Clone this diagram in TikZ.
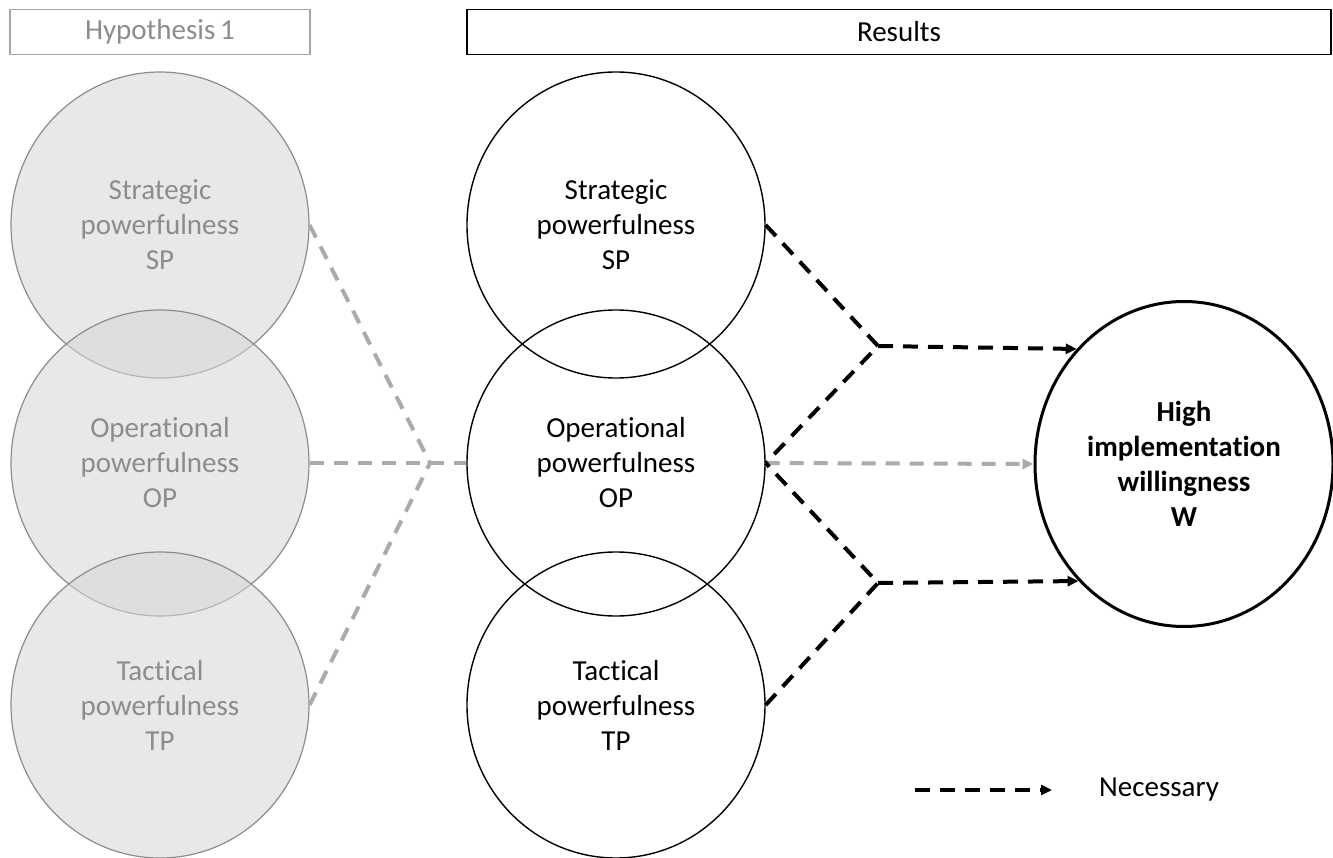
\documentclass[tikz,border=0pt]{standalone}
\usepackage{fontspec}
\setmainfont{Carlito}[RawFeature={-liga;-clig;-calt;-dlig}]
\usetikzlibrary{shapes.geometric,arrows.meta}
\definecolor{lgborder}{HTML}{8C8C8C}
\definecolor{lgtext}{HTML}{8C8C8C}
\definecolor{lgfill}{HTML}{D6D6D6}
\definecolor{hdgray}{HTML}{A6A6A6}
\definecolor{dashgray}{HTML}{ABABAB}
\tikzset{
  txt/.style={font=\fontsize{29}{35}\selectfont, align=center},
  lcirc/.style={ellipse, draw=lgborder, line width=1.2pt, fill=lgfill, fill opacity=0.565, text opacity=1, text=lgtext,
    minimum width=298pt, minimum height=306pt, inner sep=0pt, txt},
  mcirc/.style={ellipse, draw=black, line width=1.4pt, minimum width=298pt, minimum height=306pt, inner sep=0pt, txt},
  wcirc/.style={ellipse, draw=black, line width=3pt, minimum width=298pt, minimum height=325pt, inner sep=0pt, txt, font=\fontsize{29}{35}\selectfont\bfseries},
  hbox/.style={rectangle, minimum height=45pt, inner sep=0pt, txt},
  gdash/.style={draw=dashgray, line width=4pt, dash pattern=on 14pt off 10pt},
  bdash/.style={draw=black, line width=4pt, dash pattern=on 15pt off 10pt},
  btip/.style={-{Triangle[length=11pt,width=10pt]}},
  gtip/.style={-{Triangle[length=11pt,width=10pt,fill=dashgray]}},
}
\begin{document}
\begin{tikzpicture}[x=1pt,y=-1pt]
\useasboundingbox (0,0) rectangle (1333,858);
% headers
\node[hbox, draw=hdgray, line width=1.2pt, minimum width=300pt, text=lgtext] (h1) at (160,32) {Hypothesis\,1};
\node[hbox, draw=black, line width=1.4pt, minimum width=864pt] (res) at (899,32) {Results};
% left circles
\node[lcirc] (lSP) at (160,225) {Strategic\\powerfulness\\SP};
\node[lcirc] (lOP) at (160,463) {Operational\\powerfulness\\OP};
\node[lcirc] (lTP) at (160,705) {Tactical\\powerfulness\\TP};
% middle circles
\node[mcirc] (mSP) at (616,225) {Strategic\\powerfulness\\SP};
\node[mcirc] (mOP) at (616,463) {Operational\\powerfulness\\OP};
\node[mcirc] (mTP) at (616,705) {Tactical\\powerfulness\\TP};
% W
\node[wcirc] (W) at (1184,464) {High\\implementation\\willingness\\W};
% junctions
\coordinate (gJ) at (430,463);
\coordinate (jU) at (878,346);
\coordinate (jL) at (878,583);
% gray connectors
\draw[gdash] (lSP.east) -- (gJ);
\draw[gdash] (lTP.east) -- (gJ);
\draw[gdash] (lOP.east) -- (mOP.west);
\draw[gdash, gtip] (mOP.east) -- (W.west);
% black connectors
\draw[bdash] (mSP.east) -- (jU) -- (mOP.east);
\draw[bdash] (mTP.east) -- (jL) -- (mOP.east);
\draw[bdash, btip] (jU) -- (W.133);
\draw[bdash, btip] (jL) -- (W.228);
% legend
\coordinate (lg1) at (915,790);
\coordinate (lg2) at (1052,790);
\draw[bdash, btip] (lg1) -- (lg2);
\node[txt] (nec) at (1159,790) {Necessary};
\end{tikzpicture}
\end{document}
